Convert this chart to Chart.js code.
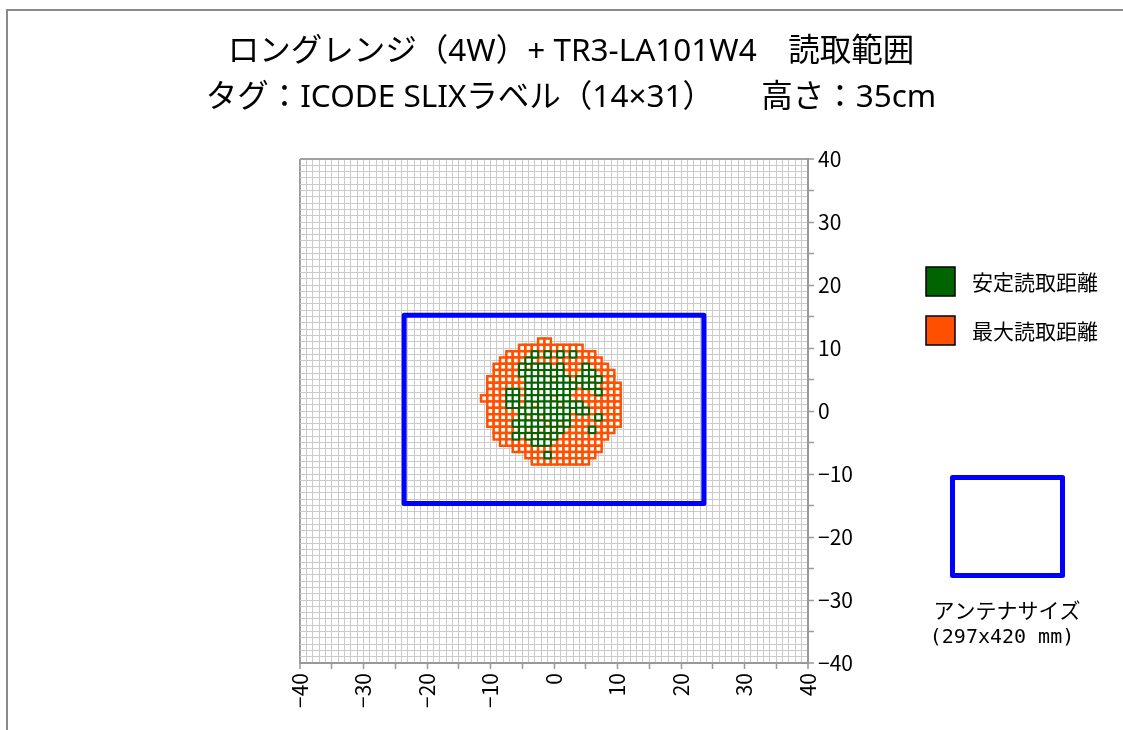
<!DOCTYPE html>
<html lang="ja">
<head>
    <meta charset="UTF-8">
    <title>読取範囲</title>
    <script src="https://cdn.jsdelivr.net/npm/chart.js"></script>
    <style>
        body { margin: 0; background: #fff; }
        .wrap { position: relative; width: 1123px; height: 730px; overflow: hidden; }
        /* outer chart frame, only left and top edges are inside the picture */
        .frame {
            position: absolute; left: 6px; top: 9px; width: 1200px; height: 800px;
            border-left: 2px solid #8a8a8a; border-top: 2px solid #8a8a8a;
        }
        canvas { position: absolute; left: 0; top: 0; }
    </style>
</head>
<body>
<div class="wrap">
    <div class="frame"></div>
    <canvas id="rangeChart" width="1123" height="730"></canvas>
</div>
<script>
    const FONT = '"Noto Sans CJK JP", "Noto Sans", sans-serif';
    const TITLE_FONT = '"Noto Sans", "Noto Sans CJK JP", sans-serif';

    const titleLines = [
        'ロングレンジ（4W）+ TR3-LA101W4　読取範囲',
        'タグ：ICODE SLIXラベル（14×31）　　高さ：35cm'
    ];
    const axisTicks = [-40, -30, -20, -10, 0, 10, 20, 30, 40];
    const seriesNames = ['安定読取距離', '最大読取距離'];
    const antennaCaption = ['アンテナサイズ', '(297x420 mm)'];

    // measured grid (1 cm cells), one entry per row from top to bottom
    const rowY     = [11, 10, 9, 8, 7, 6, 5, 4, 3, 2, 1, 0, -1, -2, -3, -4, -5, -6, -7, -8];
    const maxFrom  = [-2, -5, -7, -8, -9, -9, -10, -10, -10, -11, -10, -10, -10, -10, -9, -9, -8, -6, -4, -3];
    const maxTo    = [-1, 4, 6, 7, 8, 9, 9, 10, 10, 10, 10, 10, 10, 10, 9, 8, 7, 7, 6, 5];
    const stableX  = [
        [],
        [],
        [-3, -1, 1, 3],
        [-4],
        [-5, -3, -2, -1, 1, 5],
        [-5, -4, -3, -1, 0, 1, 5, 6],
        [-4, -3, -2, -1, 1, 2, 4, 5, 7],
        [-4, -3, -2, -1, 0, 1, 2, 3, 5, 6],
        [-7, -6, -4, -3, -1, 0, 1, 2, 7],
        [-7, -6, -4, -3, -2, -1, 1, 2],
        [-7, -6, -4, -2, -1, 0, 2, 3, 4],
        [-5, -4, -3, -2, -1, 0, 1, 2, 4, 5],
        [-5, -3, -1, 0, 1, 2, 7],
        [-6, -5, -4, -3, -2, 0, 2],
        [-5, -3, -1, 1, 6],
        [-6, -4, -2, 0],
        [-3, -2, -1],
        [],
        [-1],
        []
    ];

    // antenna outline (cm)
    const antennaX = [-23.6, 23.6, 23.6, -23.6, -23.6];
    const antennaY = [15.2, 15.2, -14.7, -14.7, 15.2];

    const GREEN = '#006400';
    const ORANGE = '#ff5000';
    const BLUE = '#0000ff';

    const maxCells = [];
    const stableCells = [];
    rowY.forEach((y, i) => {
        for (let x = maxFrom[i]; x <= maxTo[i]; x++) maxCells.push({ x: x, y: y });
        stableX[i].forEach(x => stableCells.push({ x: x, y: y }));
    });

    // a rect point whose side equals one grid unit
    function cellRadius(c) {
        const s = c.chart.scales.x;
        return Math.abs(s.getPixelForValue(1) - s.getPixelForValue(0)) / Math.SQRT2;
    }

    function fmt(v) {
        return v < 0 ? '−' + (-v) : String(v);
    }

    const gridColor = c => (Math.abs(c.tick.value) === 40 ? '#a0a0a0' : '#cbcbcb');
    const gridWidth = c => (Math.abs(c.tick.value) === 40 ? 2 : 1);
    const tickColor = c => (c.tick.value % 5 === 0 ? '#999' : 'rgba(0,0,0,0)');

    // title and the key on the right side
    const sidePanel = {
        id: 'sidePanel',
        afterDraw(chart) {
            const ctx = chart.ctx;
            ctx.save();
            ctx.fillStyle = '#000';
            ctx.textAlign = 'center';
            ctx.textBaseline = 'middle';
            ctx.font = '31.5px ' + TITLE_FONT;
            titleLines.forEach((t, i) => ctx.fillText(t, 571, 52 + i * 46));

            ctx.textAlign = 'left';
            ctx.font = '21px ' + FONT;
            [GREEN, ORANGE].forEach((col, i) => {
                const y = 267 + i * 49;
                ctx.fillStyle = col;
                ctx.fillRect(926, y, 29, 29);
                ctx.strokeStyle = '#000';
                ctx.lineWidth = 1.5;
                ctx.strokeRect(926, y, 29, 29);
                ctx.fillStyle = '#000';
                ctx.fillText(seriesNames[i], 972, y + 15);
            });

            ctx.strokeStyle = BLUE;
            ctx.lineWidth = 5;
            ctx.lineJoin = 'round';
            ctx.strokeRect(952.5, 477.5, 110, 98);

            ctx.fillStyle = '#000';
            ctx.textAlign = 'center';
            ctx.font = '21px ' + FONT;
            ctx.fillText(antennaCaption[0], 1007, 610);
            ctx.font = '20px "DejaVu Sans Mono", monospace';
            ctx.fillText(antennaCaption[1], 1002, 638);
            ctx.restore();
        }
    };

    const ctx = document.getElementById('rangeChart').getContext('2d');
    new Chart(ctx, {
        type: 'scatter',
        data: {
            datasets: [
                {
                    label: 'アンテナサイズ',
                    data: antennaX.map((x, i) => ({ x: x, y: antennaY[i] })),
                    showLine: true,
                    borderColor: BLUE,
                    borderWidth: 5,
                    borderJoinStyle: 'round',
                    borderCapStyle: 'round',
                    pointRadius: 0,
                    fill: false,
                    order: 1
                },
                {
                    label: seriesNames[0],
                    data: stableCells,
                    pointStyle: 'rect',
                    pointRadius: cellRadius,
                    pointBackgroundColor: '#fff',
                    pointBorderColor: GREEN,
                    pointBorderWidth: 2,
                    order: 2
                },
                {
                    label: seriesNames[1],
                    data: maxCells,
                    pointStyle: 'rect',
                    pointRadius: cellRadius,
                    pointBackgroundColor: '#fff',
                    pointBorderColor: ORANGE,
                    pointBorderWidth: 2.5,
                    order: 3
                }
            ]
        },
        options: {
            responsive: false,
            animation: false,
            events: [],
            layout: { padding: { top: 159, left: 300, right: 255, bottom: 8 } },
            plugins: {
                legend: { display: false },
                tooltip: { enabled: false },
                title: { display: false }
            },
            scales: {
                x: {
                    type: 'linear',
                    position: 'bottom',
                    min: -40,
                    max: 40,
                    afterFit: s => { s.height = 59; },
                    grid: { color: gridColor, lineWidth: gridWidth, tickLength: 6, tickColor: tickColor, tickWidth: 1.5 },
                    border: { color: '#999', width: 2 },
                    ticks: {
                        stepSize: 1,
                        autoSkip: false,
                        minRotation: 90,
                        maxRotation: 90,
                        padding: 4,
                        color: '#000',
                        font: { family: FONT, size: 21 },
                        callback: v => (axisTicks.includes(v) ? fmt(v) : '')
                    }
                },
                y: {
                    type: 'linear',
                    position: 'right',
                    min: -40,
                    max: 40,
                    afterFit: s => { s.width = 60; },
                    grid: { color: gridColor, lineWidth: gridWidth, tickLength: 6, tickColor: tickColor, tickWidth: 1.5 },
                    border: { color: '#999', width: 2 },
                    ticks: {
                        stepSize: 1,
                        autoSkip: false,
                        padding: 4,
                        color: '#000',
                        font: { family: FONT, size: 21 },
                        callback: v => (axisTicks.includes(v) ? fmt(v) : '')
                    }
                }
            }
        },
        plugins: [sidePanel]
    });
</script>
</body>
</html>
